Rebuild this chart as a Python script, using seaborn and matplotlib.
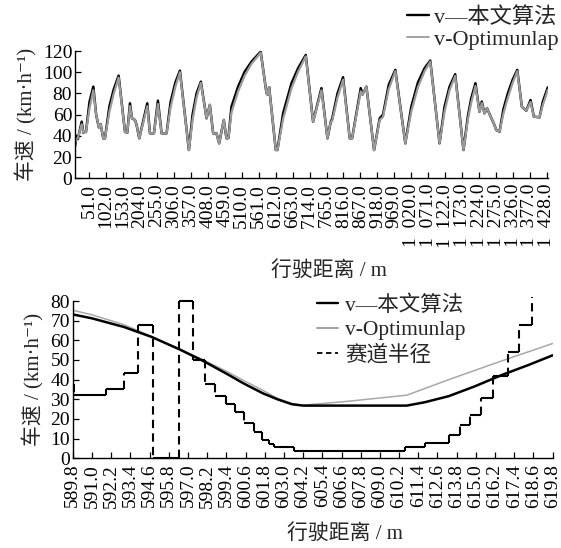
import numpy as np
import matplotlib
matplotlib.use('Agg')
import matplotlib.pyplot as plt
import seaborn as sns
from matplotlib.lines import Line2D
from matplotlib.ticker import FuncFormatter


# top panel: whole lap, speed vs. distance
lap_dist = [8.4, 13, 17, 28.5, 33.5, 41.5, 52, 63.5, 72, 80, 85.5, 93.5, 98.5, 112, 125, 139.6,
            158.7, 165.7, 173.7, 179.7, 188.7, 193.7, 201.7, 225.8, 233.8, 245.8, 257.8, 268.8,
            283.8, 296, 310, 323.9, 351, 362, 374, 387, 404, 414, 424, 434, 442, 456, 464, 470,
            479, 499, 519, 539.4, 567, 584.4, 587.5, 592.4, 612.4, 617.4, 634.4, 659.6, 679.5,
            702.6, 724.5, 749.7, 767.8, 777.7, 782, 798, 814.7, 834.8, 842, 867.9, 873, 885, 908,
            925, 935, 952, 972, 1002, 1020, 1040, 1060, 1077, 1105, 1120, 1135, 1152, 1177, 1190,
            1200, 1213, 1225, 1232, 1240, 1248, 1258, 1270, 1275.6, 1285.5, 1297, 1310.5, 1325,
            1338.7, 1352.6, 1365.8, 1378.7, 1388.7, 1405.8, 1415.7, 1430.7]
lap_v_ours = [30, 40, 37, 53.4, 43, 44, 72, 86.4, 60, 48, 51, 37.7, 37.7, 68, 84, 96.8,
              43.9, 43, 70.7, 56.6, 55, 50.3, 37.7, 70.7, 42.4, 42.4, 73.2, 42.4,
              42.4, 72, 90, 101.5, 26.7, 60, 80, 91.1, 56.6, 69.2, 42.4, 42.4, 33, 55, 37.7, 38,
              67.5, 86.4, 100.6, 110, 119.4, 80.2, 79, 85.8, 26.7, 26.7, 61.3, 89.6, 103.8,
              116.3, 53.4, 85, 37.7, 53.4, 56, 80, 95.3, 37.7, 37.7, 85, 79, 86.4, 26.7,
              56.6, 60, 88, 102.2, 33, 67.5, 90.4, 103.8, 111, 33, 67.5, 86.4, 98.1, 26.7, 58.1,
              75, 89.6, 62.8, 72.3, 61.3, 66, 58.7, 50.3, 45.6, 44, 65, 80.2, 93,
              102.2, 67.5, 63.7, 73.8, 58.1, 57.5, 72.3, 85.8]
lap_v_opt = [33, 37, 38, 51, 43, 44, 66, 83, 60, 48, 51, 37.7, 37.7, 63, 80, 95,
             43.9, 43, 68, 56.6, 55, 50.3, 37.7, 68, 42.4, 42.4, 70, 42.4,
             42.4, 67, 86, 100, 26.7, 55, 76, 90, 56.6, 69.2, 42.4, 42.4, 33, 55, 37.7, 38,
             62, 82, 97, 108, 118.5, 80.2, 79, 85.8, 26.7, 26.7, 56, 85, 100.5,
             115, 53.4, 83, 37.7, 53.4, 54, 76, 93, 37.7, 37.7, 82, 79, 86.4, 26.7,
             55, 58, 84, 101, 33, 63, 86, 101, 110, 33, 63, 83, 96.5, 26.7, 55,
             71, 87, 62.8, 71, 61.3, 66, 58.7, 50.3, 45.6, 44, 61, 76, 90,
             101, 67.5, 63.7, 72, 58.1, 57.5, 69, 83.5]

# bottom panel: zoom on 589.8 m - 619.8 m
zoom_dist_ours = [589.8, 591.0, 593.0, 594.74, 596.5, 597.96, 599.4, 600.5, 601.7, 602.6, 603.5,
                  604.2, 610.68, 611.8, 613.3, 614.9, 616.6, 618.3, 619.8]
zoom_v_ours = [73.2, 71.2, 66.8, 61.7, 55.3, 49.5, 43.1, 38, 33, 30, 27.5,
               26.8, 26.8, 28.5, 31.6, 36.5, 42.3, 47.5, 52.4]
zoom_dist_opt = [589.8, 591.0, 593.0, 594.74, 596.5, 597.96, 599.4, 600.5, 601.7, 602.6, 603.5,
                 604.2, 607.0, 610.68, 613.3, 616.6, 619.8]
zoom_v_opt = [75.3, 73, 68, 61.9, 55.5, 50, 44.3, 39.5, 34.5, 30.5, 27.8,
              27, 29, 32.1, 40, 49.5, 58.4]

# track radius as steps: edges and the value between them
radius_edges = [589.85, 591.9, 593.0, 593.9, 594.8, 596.46, 597.3, 598.07, 598.7, 599.35, 599.97,
                600.5, 601.1, 601.6, 602.06, 602.4, 603.6, 610.57, 611.8, 613.3, 614.0, 614.66,
                615.3, 616.1, 617.0, 617.7, 618.5]
radius_vals = [32, 35.5, 43.6, 68, 0, 80, 50, 37.6, 31.6, 27.6, 23.7, 17.8, 13.5, 9.3, 7.3, 5.7,
               3.8, 5.9, 7.9, 11.8, 16.9, 22, 30.5, 41.8, 54.1, 67.7]
radius_start = 38
radius_end = 82

lap_ticks = list(range(51, 1429, 51))
zoom_ticks = [589.8, 591.0, 592.2, 593.4, 594.6, 595.8, 597.0, 598.2, 599.4, 600.6, 601.8, 603.0,
              604.2, 605.4, 606.6, 607.8, 609.0, 610.2, 611.4, 612.6, 613.8, 615.0, 616.2, 617.4,
              618.6, 619.8]

sns.set_theme(style='ticks')
plt.rcParams['font.family'] = ['Liberation Serif', 'Noto Sans CJK SC', 'DejaVu Sans']
plt.rcParams['axes.linewidth'] = 1.0
plt.rcParams['axes.edgecolor'] = 'black'

ylab = '车速 / (km·h⁻¹)'
xlab = '行驶距离 / m'
grey = '#9a9a9a'


def lap_fmt(v, p):
    # thousands written as "1 020.0"
    s = f'{v:.1f}'
    if v >= 1000:
        s = s[0] + '\u2002' + s[1:]
    return s


fig = plt.figure(figsize=(5.61, 5.48), dpi=100)
ax1 = fig.add_axes([0.1337, 0.6746, 0.843, 0.2323])
ax2 = fig.add_axes([0.1296, 0.1637, 0.8556, 0.287])

# top
sns.lineplot(x=lap_dist, y=lap_v_ours, ax=ax1, color='black', lw=1.8, sort=False, estimator=None)
sns.lineplot(x=lap_dist, y=lap_v_opt, ax=ax1, color=grey, lw=1.6, sort=False, estimator=None)
ax1.set_xlim(8.4, 1431)
ax1.set_ylim(0, 120)
ax1.set_yticks(range(0, 121, 20))
ax1.set_xticks(lap_ticks)
ax1.xaxis.set_major_formatter(FuncFormatter(lap_fmt))

# bottom
sns.lineplot(x=zoom_dist_opt, y=zoom_v_opt, ax=ax2, color='#a8a8a8', lw=1.1, sort=False, estimator=None)
sns.lineplot(x=zoom_dist_ours, y=zoom_v_ours, ax=ax2, color='black', lw=1.8, sort=False, estimator=None)
ax2.hlines(radius_vals, radius_edges[:-1], radius_edges[1:], color='black', lw=1.5, clip_on=False)
ax2.vlines(radius_edges, [radius_start] + radius_vals, radius_vals + [radius_end],
           color='black', lw=1.5, linestyles=(0, (4, 2.5)), clip_on=False)
ax2.set_xlim(589.8, 619.8)
ax2.set_ylim(0, 80)
ax2.set_yticks(range(0, 81, 10))
ax2.set_xticks(zoom_ticks)
ax2.xaxis.set_major_formatter(FuncFormatter(lambda v, p: f'{v:.1f}'))

for ax in (ax1, ax2):
    sns.despine(ax=ax)
    ax.tick_params(direction='in', length=4.5, width=0.9, labelsize=14, colors='black')
    ax.tick_params(axis='x', labelrotation=90, pad=4)
    ax.tick_params(axis='y', pad=2)
    ax.set_ylabel(ylab, fontsize=15, labelpad=4)
    ax.set_xlabel(xlab, fontsize=15)

ax1.xaxis.set_label_coords(0.537, -0.65)
ax2.xaxis.set_label_coords(0.567, -0.42)

h_ours = Line2D([], [], color='black', lw=1.7)
h_opt = Line2D([], [], color=grey, lw=1.3)
h_rad = Line2D([], [], color='black', lw=1.3, linestyle=(0, (3, 2)))

fig.legend([h_ours, h_opt], ['v—本文算法', 'v-Optimunlap'], loc='upper right',
           bbox_to_anchor=(0.995, 0.987), frameon=False, fontsize=16, handlelength=1.0,
           handletextpad=0.2, labelspacing=0.05, borderpad=0, borderaxespad=0)
fig.legend([h_ours, h_opt, h_rad], ['v—本文算法', 'v-Optimunlap', '赛道半径'],
           loc='upper left', bbox_to_anchor=(0.565, 0.462), frameon=False, fontsize=15.5,
           handlelength=1.0, handletextpad=0.3, labelspacing=0.22, borderpad=0, borderaxespad=0)

fig.savefig('out.png', dpi=100, facecolor='white')
